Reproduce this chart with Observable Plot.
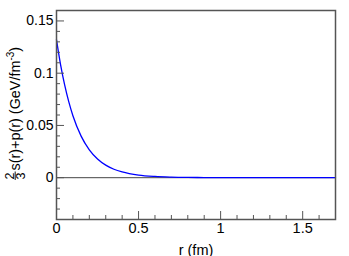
<!DOCTYPE html>
<html>
<head>
<meta charset="utf-8">
<script src="https://cdn.jsdelivr.net/npm/d3@7"></script>
<script src="https://cdn.jsdelivr.net/npm/@observablehq/plot@0.6"></script>
<style>
html,body{margin:0;padding:0;background:#fff;}
svg{display:block;font-family:"Liberation Sans",Arial,sans-serif;}
</style>
</head>
<body>
<div id="chart"></div>
<script>
// Data
const rValues = [0, 0.025, 0.05, 0.075, 0.1, 0.15, 0.2, 0.25, 0.3, 0.35, 0.4, 0.5, 0.6, 0.7, 0.8, 0.9, 1.0, 1.2, 1.4, 1.7];
const yValues = [0.132, 0.108, 0.0885, 0.0725, 0.0593, 0.0398, 0.0267, 0.0179, 0.0120, 0.0081, 0.0055, 0.0025, 0.0012, 0.0006, 0.0003, 0.00015, 0.0001, 0.00003, 0.00001, 0];
const xMajorTicks = [0, 0.5, 1, 1.5];
const xMinorTicks = [0.1, 0.2, 0.3, 0.4, 0.6, 0.7, 0.8, 0.9, 1.1, 1.2, 1.3, 1.4, 1.6, 1.7];
const yMajorTicks = [0, 0.05, 0.1, 0.15];
const yMinorTicks = [-0.04, -0.03, -0.02, -0.01, 0.01, 0.02, 0.03, 0.04, 0.06, 0.07, 0.08, 0.09, 0.11, 0.12, 0.13, 0.14, 0.16];
const xLabel = "r (fm)";

const data = rValues.map((r, i) => ({r, y: yValues[i]}));

const W = 349, H = 256, mL = 56, mR = 14, mT = 10, mB = 37;
const fh = H - mT - mB, fw = W - mL - mR;
const axisColor = "#555";

const chart = Plot.plot({
  width: W, height: H,
  marginLeft: mL, marginRight: mR, marginTop: mT, marginBottom: mB,
  style: {fontFamily: "Liberation Sans, Arial, sans-serif", fontSize: "14.5px", color: "#000", background: "#fff"},
  x: {domain: [0, 1.7]},
  y: {domain: [-0.04, 0.16]},
  marks: [
    Plot.ruleY([0], {stroke: "#444", strokeWidth: 1}),
    Plot.line(data, {x: "r", y: "y", stroke: "#0000ff", strokeWidth: 1.3, curve: "monotone-x"}),
    Plot.tickX(xMajorTicks, {x: d => d, stroke: axisColor, strokeWidth: 1, insetTop: fh - 8}),
    Plot.tickX(xMinorTicks, {x: d => d, stroke: axisColor, strokeWidth: 1, insetTop: fh - 4}),
    Plot.tickY(yMajorTicks, {y: d => d, stroke: axisColor, strokeWidth: 1, insetRight: fw - 8}),
    Plot.tickY(yMinorTicks, {y: d => d, stroke: axisColor, strokeWidth: 1, insetRight: fw - 4}),
    Plot.axisX({ticks: xMajorTicks, tickSize: 0, tickPadding: 3, tickFormat: d => String(d), label: xLabel, labelAnchor: "center", labelArrow: "none", labelOffset: 35, fontSize: 14.5}),
    Plot.axisY({ticks: yMajorTicks, tickSize: 0, tickPadding: 3, tickFormat: d => String(d), label: null, fontSize: 14}),
    Plot.frame({stroke: axisColor, strokeWidth: 1.5})
  ]
});
document.getElementById("chart").appendChild(chart);

// Y axis title with stacked fraction 2/3
const svg = d3.select(chart);
const g = svg.append("g").attr("transform", "translate(20,180) rotate(-90)")
  .attr("font-family", "Liberation Sans, Arial, sans-serif").attr("fill", "#000")
  .attr("text-anchor", "start");
g.append("text").attr("x", 0.5).attr("y", -6).attr("font-size", 12.5).attr("text-anchor", "start").text("2");
g.append("line").attr("x1", 0).attr("x2", 8.5).attr("y1", -4.8).attr("y2", -4.8).attr("stroke", "#000").attr("stroke-width", 0.9);
g.append("text").attr("x", 0.5).attr("y", 4.5).attr("font-size", 12.5).attr("text-anchor", "start").text("3");
const t = g.append("text").attr("x", 9.5).attr("y", 0).attr("font-size", 14.4).attr("text-anchor", "start");
t.append("tspan").text("s(r)+p(r) (GeV/fm");
t.append("tspan").attr("font-size", 10).attr("dy", -6.5).text("-3");
t.append("tspan").attr("dy", 6.5).text(")");
</script>
</body>
</html>
